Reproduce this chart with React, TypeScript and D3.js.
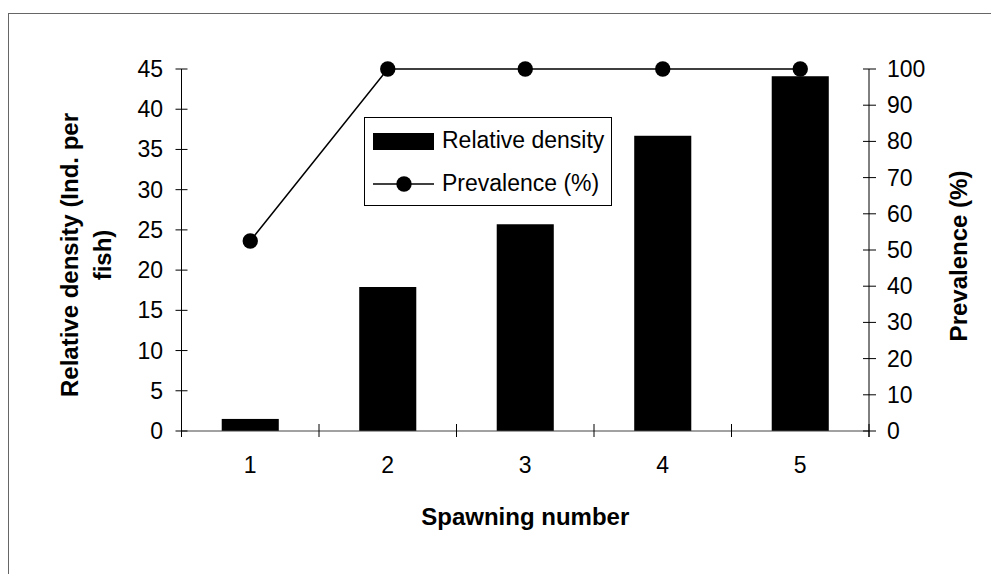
import React from 'react';
import * as d3 from 'd3';

const categories = ['1', '2', '3', '4', '5'];
const density = [1.5, 17.9, 25.7, 36.7, 44.1];
const prevalence = [52.5, 100, 100, 100, 100];
const leftTicks = [0, 5, 10, 15, 20, 25, 30, 35, 40, 45];
const rightTicks = [0, 10, 20, 30, 40, 50, 60, 70, 80, 90, 100];

const W = 991;
const H = 574;
const left = 181.5;
const right = 869;
const top = 69;
const bottom = 431;
const font = 'Liberation Sans, Arial, sans-serif';

export default function App() {
  const x = d3.scaleBand<string>().domain(categories).range([left, right]).paddingInner(0.585).paddingOuter(0.2925);
  const xb = d3.scaleBand<string>().domain(categories).range([left, right]);
  const yL = d3.scaleLinear().domain([0, 45]).range([bottom, top]);
  const yR = d3.scaleLinear().domain([0, 100]).range([bottom, top]);

  const pts = categories.map((c, i) => [xb(c)! + xb.bandwidth() / 2, yR(prevalence[i])] as [number, number]);
  const line = d3.line();

  return (
    <svg width={W} height={H} style={{ position: 'absolute', left: 0, top: 0 }} fontFamily={font}>
      <rect x={0} y={0} width={W} height={H} fill="#fff" />
      <rect x={8.5} y={13.5} width={W + 20} height={H + 20} fill="none" stroke="#666" strokeWidth={1} />

      {/* bars */}
      {categories.map((c, i) => (
        <rect key={c} x={x(c)} y={yL(density[i])} width={x.bandwidth()} height={bottom - yL(density[i])} fill="#000" />
      ))}

      {/* x axis */}
      <line x1={left} x2={right} y1={bottom} y2={bottom} stroke="#444" strokeWidth={1} />
      {d3.range(categories.length + 1).map(i => {
        const xx = left + i * xb.bandwidth();
        return <line key={i} x1={xx} x2={xx} y1={bottom - 7} y2={bottom + 6} stroke="#000" strokeWidth={1} />;
      })}
      {categories.map(c => (
        <text key={c} x={xb(c)! + xb.bandwidth() / 2} y={473} fontSize={23} textAnchor="middle">{c}</text>
      ))}
      <text x={(left + right) / 2} y={525} fontSize={24} fontWeight="bold" textAnchor="middle">Spawning number</text>

      {/* left axis */}
      <line x1={left} x2={left} y1={top} y2={bottom + 6} stroke="#000" strokeWidth={1} />
      {leftTicks.map(t => (
        <g key={t}>
          <line x1={left - 6} x2={left + 6} y1={yL(t)} y2={yL(t)} stroke="#000" />
          <text x={163} y={yL(t) + 8} fontSize={23} textAnchor="end">{t}</text>
        </g>
      ))}
      <text transform={`translate(78,255) rotate(-90)`} fontSize={24} fontWeight="bold" textAnchor="middle">Relative density (Ind. per</text>
      <text transform={`translate(111,255) rotate(-90)`} fontSize={24} fontWeight="bold" textAnchor="middle">fish)</text>

      {/* right axis */}
      <line x1={right} x2={right} y1={top} y2={bottom + 6} stroke="#000" strokeWidth={1} />
      {rightTicks.map(t => (
        <g key={t}>
          <line x1={right - 6} x2={right + 7} y1={yR(t)} y2={yR(t)} stroke="#000" />
          <text x={887} y={yR(t) + 8} fontSize={23} textAnchor="start">{t}</text>
        </g>
      ))}
      <text transform={`translate(967,256) rotate(-90)`} fontSize={24} fontWeight="bold" textAnchor="middle">Prevalence (%)</text>

      {/* prevalence line */}
      <path d={line(pts) || ''} fill="none" stroke="#000" strokeWidth={1.5} />
      {pts.map((p, i) => (
        <circle key={i} cx={p[0]} cy={p[1]} r={7.7} fill="#000" />
      ))}

      {/* legend */}
      <rect x={364.5} y={117.5} width={247} height={88} fill="#fff" stroke="#000" strokeWidth={1} />
      <rect x={373} y={133} width={61} height={17} fill="#000" />
      <text x={442} y={148} fontSize={23}>Relative density</text>
      <line x1={373} x2={434} y1={184} y2={184} stroke="#000" strokeWidth={1.5} />
      <circle cx={404} cy={184} r={7.7} fill="#000" />
      <text x={442} y={191} fontSize={23}>Prevalence (%)</text>
    </svg>
  );
}
